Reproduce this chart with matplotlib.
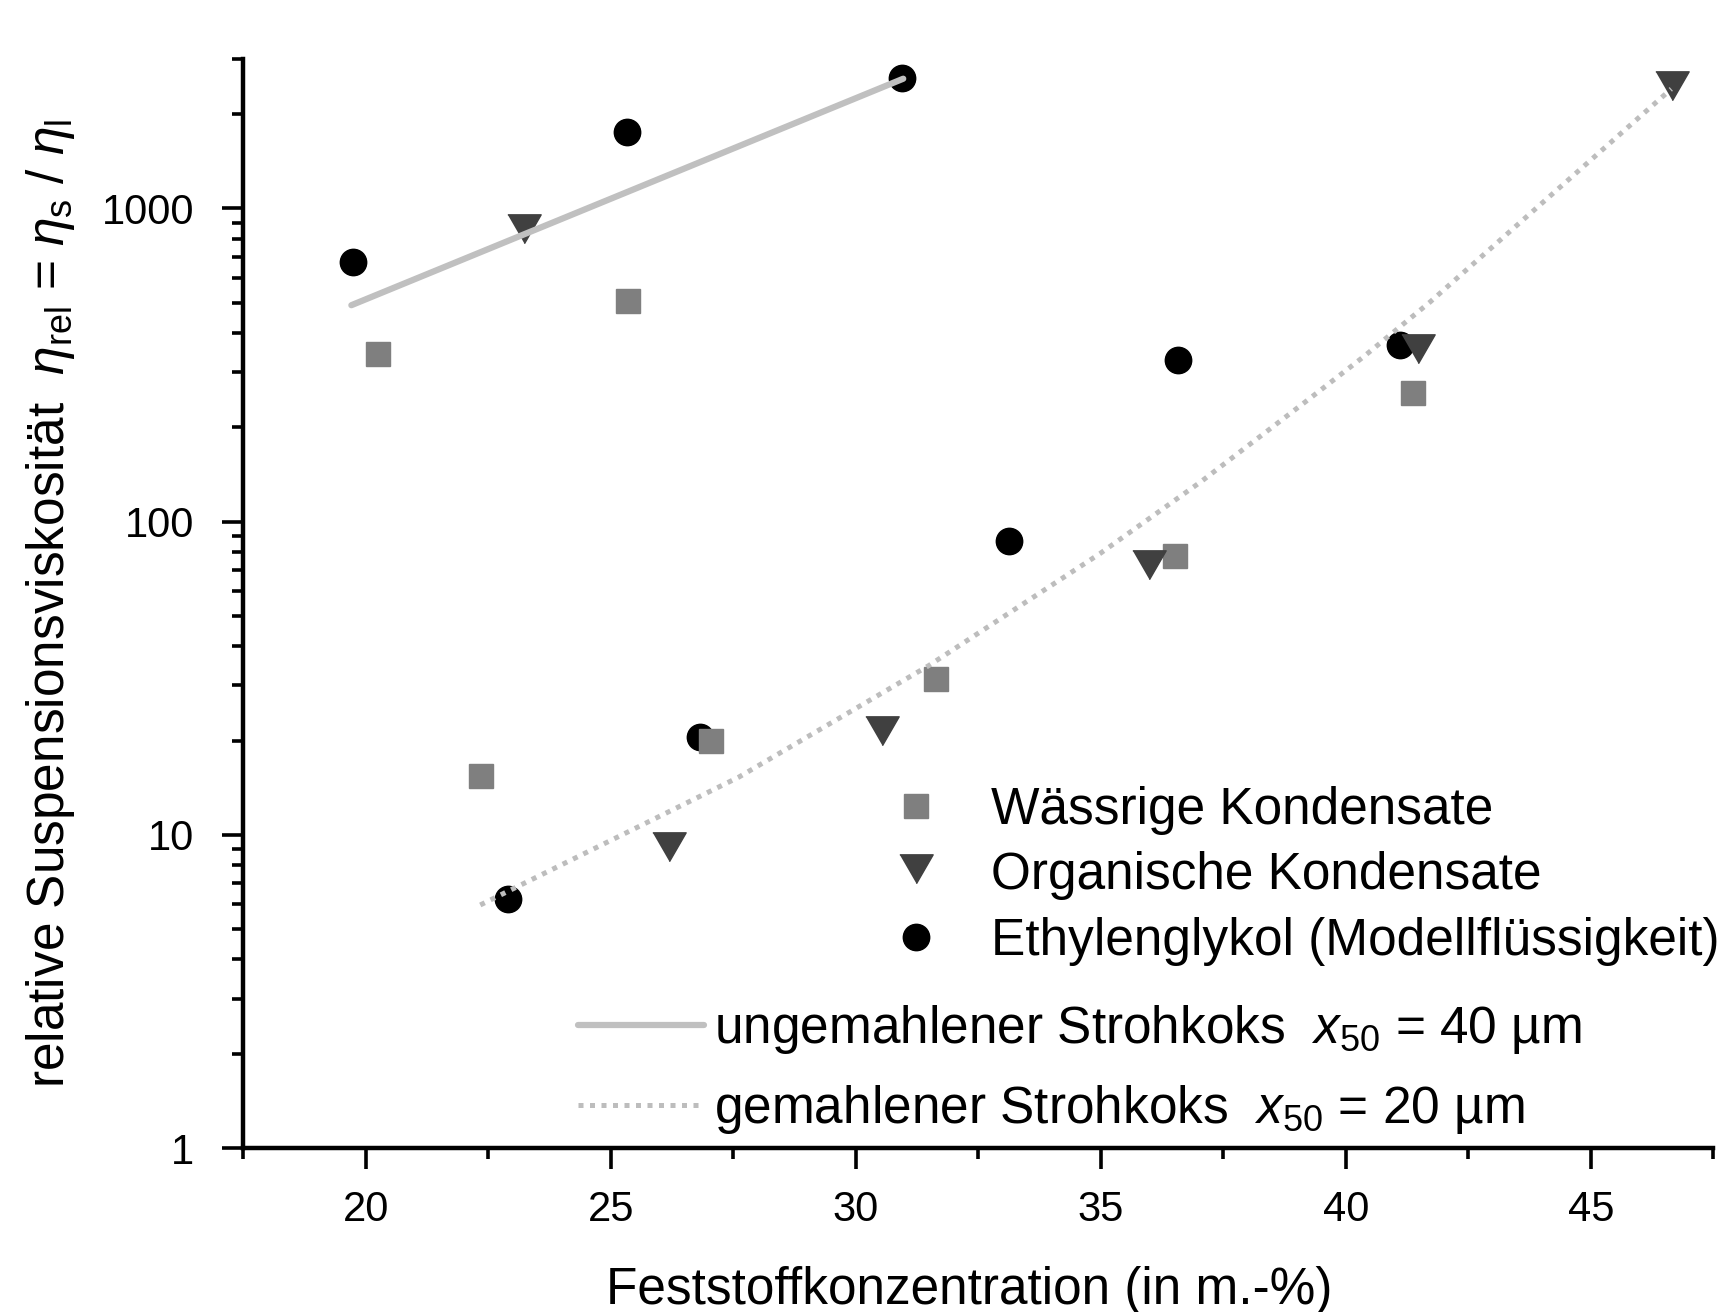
import matplotlib

matplotlib.use("Agg")
import matplotlib.pyplot as plt
from matplotlib.ticker import MultipleLocator, LogLocator, NullFormatter, FixedLocator, FixedFormatter

plt.rcParams["font.family"] = ["Liberation Sans", "DejaVu Sans"]
plt.rcParams["mathtext.fontset"] = "custom"
plt.rcParams["mathtext.rm"] = "Liberation Sans"
plt.rcParams["mathtext.it"] = "Liberation Sans:italic"

waessrig_x = [20.25, 22.35, 25.35, 27.04, 31.63, 36.52, 41.38]
waessrig_y = [342, 15.4, 505, 20.0, 31.5, 77.7, 257]
organisch_x = [23.23, 26.19, 30.54, 35.98, 41.47, 46.66]
organisch_y = [850, 9.0, 21.1, 71.6, 350, 2430]
glykol_x = [19.75, 22.91, 25.33, 26.82, 30.95, 33.12, 36.57, 41.10]
glykol_y = [676, 6.24, 1754, 20.6, 2612, 87, 328, 367]

# Ausgleichskurven
fit_ungemahlen_x = [19.71, 30.97]
fit_ungemahlen_y = [491, 2596]
fit_gemahlen_x = [22.34, 27.62, 31.49, 34.98, 37.04, 39.23, 40.36, 41.72, 46.64]
fit_gemahlen_y = [5.97, 15.3, 34.7, 79.0, 134, 245, 336, 503, 2408]

x_ticks = [20, 25, 30, 35, 40, 45]
y_ticks = [1, 10, 100, 1000]
y_ticklabels = ["1", "10", "100", "1000"]

tri_down = [(-1, 1), (1, 1), (0, -0.732)]

fig = plt.figure(figsize=(17.36, 13.12), dpi=100)
ax = fig.add_axes([0.140, 0.125, 0.847, 0.830])

ax.plot(glykol_x, glykol_y, "o", color="black", markersize=19, zorder=2)
h_sq, = ax.plot(waessrig_x, waessrig_y, "s", color="#7f7f7f", markersize=17, zorder=3)
h_tri, = ax.plot(organisch_x, organisch_y, marker=tri_down, linestyle="none",
                 color="#404040", markersize=24, zorder=4)
h_circ, = ax.plot([], [], "o", color="black", markersize=19)

l1, = ax.plot(fit_ungemahlen_x, fit_ungemahlen_y, color="#c0c0c0", linewidth=4.5,
              solid_capstyle="round", zorder=5)
l2, = ax.plot(fit_gemahlen_x, fit_gemahlen_y, color="#bdbdbd", linewidth=3.6,
              linestyle=(0, (1, 1.3)), zorder=5)

ax.set_yscale("log")
ax.set_xlim(17.5, 47.5)
ax.set_ylim(1, 3000)
ax.xaxis.set_major_locator(FixedLocator(x_ticks))
ax.xaxis.set_minor_locator(MultipleLocator(2.5))
ax.yaxis.set_major_locator(FixedLocator(y_ticks))
ax.yaxis.set_major_formatter(FixedFormatter(y_ticklabels))
ax.yaxis.set_minor_locator(LogLocator(base=10, subs=range(2, 10)))
ax.yaxis.set_minor_formatter(NullFormatter())

for side in ["top", "right"]:
    ax.spines[side].set_visible(False)
for side in ["left", "bottom"]:
    ax.spines[side].set_linewidth(3.2)

ax.tick_params(axis="both", which="major", length=15, width=2.6, labelsize=30, direction="out")
ax.tick_params(axis="both", which="minor", length=8, width=2.6, direction="out")
ax.tick_params(axis="x", which="major", pad=15)
ax.tick_params(axis="y", which="major", pad=20)

ax.set_xlabel("Feststoffkonzentration (in m.-%)", fontsize=37)
ax.xaxis.set_label_coords(0.494, -0.108)
ax.set_ylabel(r"relative Suspensionsviskosität  $\eta_\mathrm{rel}$ = $\eta_\mathrm{s}$ / $\eta_\mathrm{l}$",
              fontsize=37)
ax.yaxis.set_label_coords(-0.113, 0.50)

leg1 = ax.legend([h_sq, h_tri, h_circ],
                 ["Wässrige Kondensate", "Organische Kondensate", "Ethylenglykol (Modellflüssigkeit)"],
                 loc="upper left", bbox_to_anchor=(0.513, 0.401), bbox_transform=fig.transFigure,
                 frameon=False, fontsize=37, handlelength=1.0, handletextpad=0.95,
                 borderpad=0, borderaxespad=0, labelspacing=0.32)
ax.add_artist(leg1)
ax.legend([l1, l2],
          [r"ungemahlener Strohkoks  $\mathit{x}_\mathrm{50}$ = 40 µm",
           r"gemahlener Strohkoks  $\mathit{x}_\mathrm{50}$ = 20 µm"],
          loc="upper left", bbox_to_anchor=(0.333, 0.2355), bbox_transform=fig.transFigure,
          frameon=False, fontsize=37, handlelength=2.45, handletextpad=0.2,
          borderpad=0, borderaxespad=0, labelspacing=0.52)

fig.savefig("out.png", dpi=100)
plt.close(fig)
